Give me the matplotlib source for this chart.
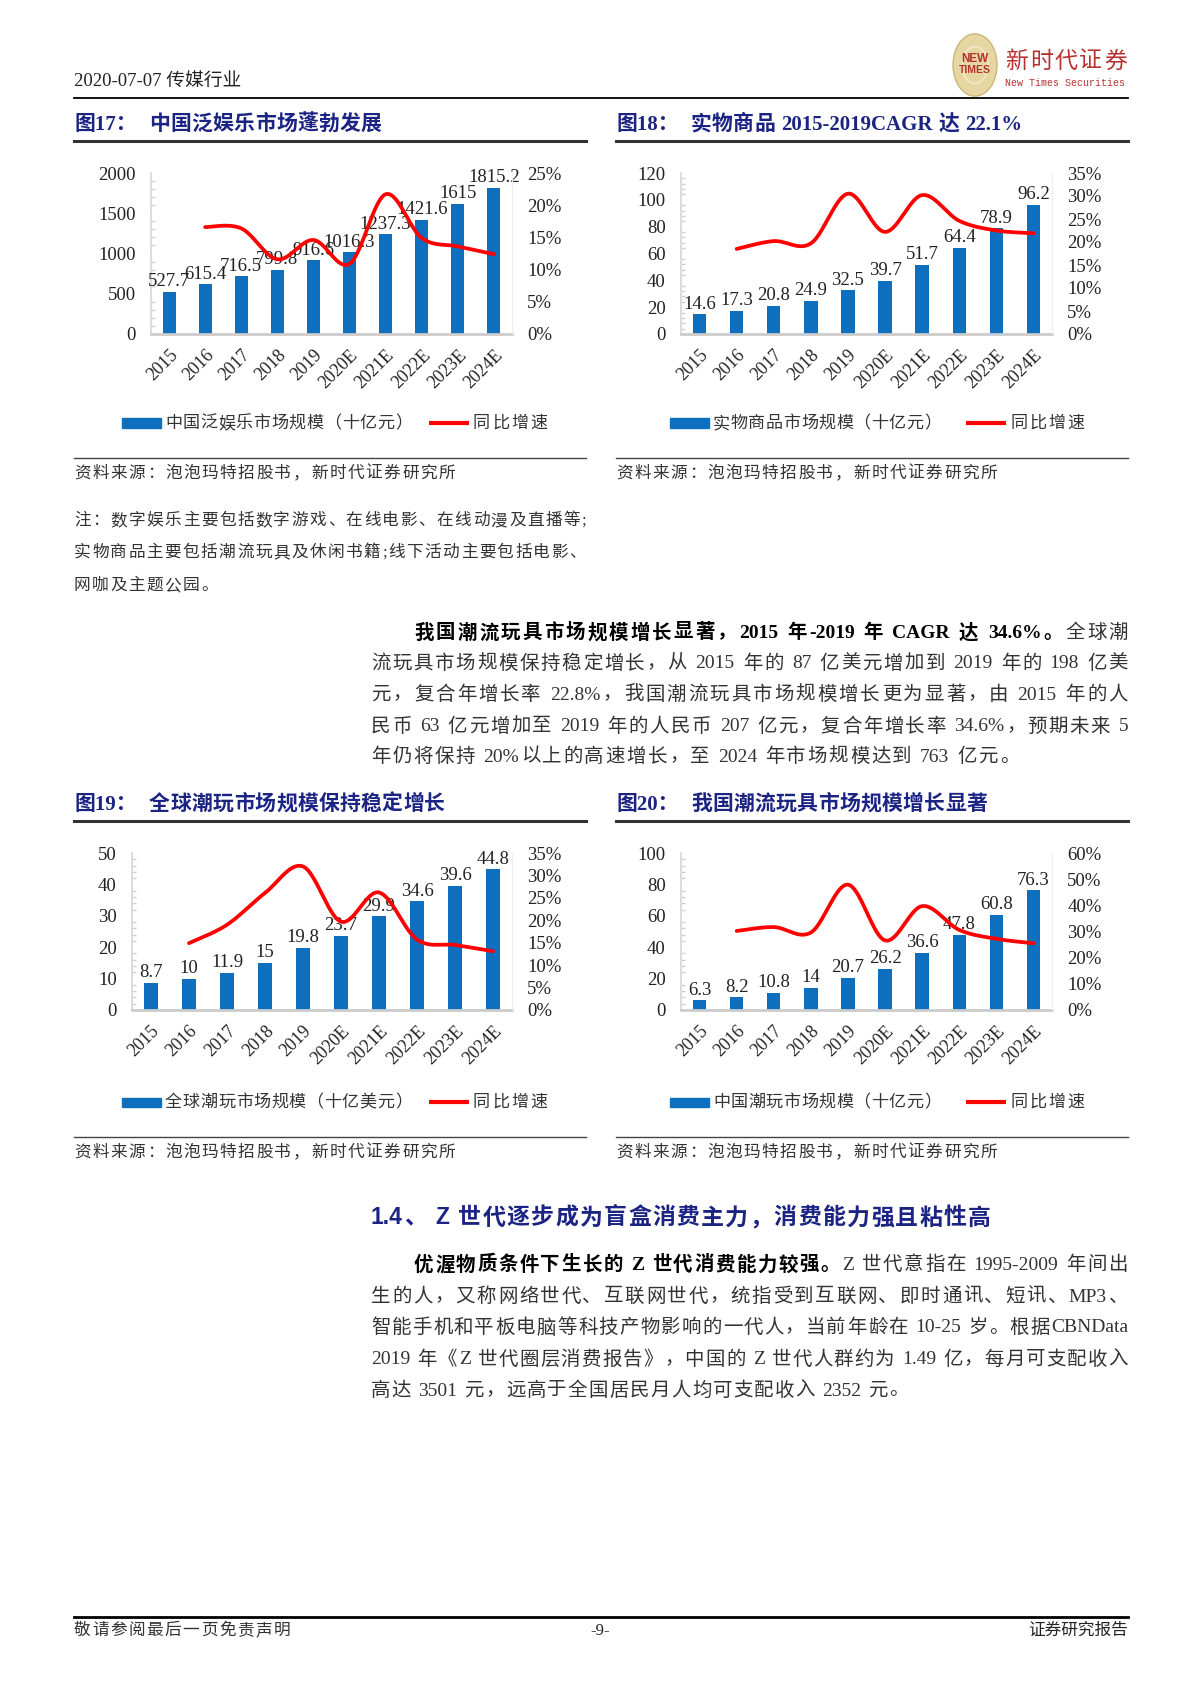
import re
import numpy as np
import matplotlib
matplotlib.use('Agg')
import matplotlib.pyplot as plt
from matplotlib.patches import Rectangle, Circle
from matplotlib.lines import Line2D
from matplotlib.ticker import MultipleLocator

# ---------------- data ----------------
years = ['2015', '2016', '2017', '2018', '2019', '2020E', '2021E', '2022E', '2023E', '2024E']

pan_ent_size = [527.7, 615.4, 716.5, 799.8, 916.6, 1016.3, 1237.3, 1421.6, 1615, 1815.2]
pan_ent_growth = [16.6, 16.4, 11.6, 14.6, 10.9, 21.7, 14.9, 13.6, 12.4]   # 2016..2024E, %

goods_size = [14.6, 17.3, 20.8, 24.9, 32.5, 39.7, 51.7, 64.4, 78.9, 96.2]
goods_growth = [18.5, 20.2, 19.7, 30.5, 22.2, 30.2, 24.6, 22.5, 21.9]

global_toy_size = [8.7, 10, 11.9, 15, 19.8, 23.7, 29.9, 34.6, 39.6, 44.8]
global_toy_growth = [14.9, 19.0, 26.1, 32.0, 19.7, 26.2, 15.7, 14.5, 13.1]

china_toy_size = [6.3, 8.2, 10.8, 14, 20.7, 26.2, 36.6, 47.8, 60.8, 76.3]
china_toy_growth = [30.2, 31.7, 29.6, 47.9, 26.6, 39.7, 30.6, 27.2, 25.5]

legend_bar_labels = ['中国泛娱乐市场规模（十亿元）', '实物商品市场规模（十亿元）',
                     '全球潮玩市场规模（十亿美元）', '中国潮玩市场规模（十亿元）']
legend_line_label = '同比增速'
fig_nums = ['图17：', '图18：', '图19：', '图20：']
fig_titles = ['中国泛娱乐市场蓬勃发展', '实物商品 2015-2019CAGR 达 22.1%',
              '全球潮玩市场规模保持稳定增长', '我国潮流玩具市场规模增长显著']
source_text = '资料来源：泡泡玛特招股书，新时代证券研究所'
note_lines = ['注：数字娱乐主要包括数字游戏、在线电影、在线动漫及直播等;',
              '实物商品主要包括潮流玩具及休闲书籍;线下活动主要包括电影、',
              '网咖及主题公园。']
para1 = [
    [('我国潮流玩具市场规模增长显著，2015 年-2019 年 CAGR 达 34.6%。', 'bold'), ('全球潮', 'normal')],
    [('流玩具市场规模保持稳定增长，从 2015 年的 87 亿美元增加到 2019 年的 198 亿美', 'normal')],
    [('元，复合年增长率 22.8%，我国潮流玩具市场规模增长更为显著，由 2015 年的人', 'normal')],
    [('民币 63 亿元增加至 2019 年的人民币 207 亿元，复合年增长率 34.6%，预期未来 5', 'normal')],
    [('年仍将保持 20%以上的高速增长，至 2024 年市场规模达到 763 亿元。', 'normal')],
]
heading = '1.4、 Z 世代逐步成为盲盒消费主力，消费能力强且粘性高'
para2 = [
    [('优渥物质条件下生长的 Z 世代消费能力较强。', 'bold'), ('Z 世代意指在 1995-2009 年间出', 'normal')],
    [('生的人，又称网络世代、互联网世代，统指受到互联网、即时通讯、短讯、MP3、', 'normal')],
    [('智能手机和平板电脑等科技产物影响的一代人，当前年龄在 10-25 岁。根据CBNData', 'normal')],
    [('2019 年《Z 世代圈层消费报告》，中国的 Z 世代人群约为 1.49 亿，每月可支配收入', 'normal')],
    [('高达 3501 元，远高于全国居民月人均可支配收入 2352 元。', 'normal')],
]

# ---------------- setup ----------------
W, H = 1200, 1698
fig = plt.figure(figsize=(12, 16.98), dpi=100)
fig.patch.set_facecolor('white')
R = fig.canvas.get_renderer()

FAM = ['Liberation Serif', 'Noto Sans CJK SC', 'DejaVu Sans']
SANS = ['Liberation Sans', 'Noto Sans CJK SC', 'DejaVu Sans']
CJK = ['Noto Sans CJK SC', 'DejaVu Sans']
BLUE = '#0F6FBF'
RED = '#FF0000'
NAVY = '#1B2483'
BODY = '#333333'


def fx(x):
    return x / W


def fy(y):
    return 1 - y / H


def txt(x, y, s, size, family=FAM, **kw):
    kw.setdefault('va', 'center')
    return fig.text(fx(x), fy(y), s, fontsize=size, family=family, **kw)


def hline(x0, x1, y, lw=1.0, color='black'):
    fig.add_artist(Line2D([fx(x0), fx(x1)], [fy(y), fy(y)], lw=lw, color=color,
                          transform=fig.transFigure))


TOK = re.compile(r'[A-Za-z0-9.%\-]+|\s+|.')


def tline(x0, y, segs, size, x1=None, gap=0.0, family=FAM, colors=None):
    toks = []
    for s, wt in segs:
        for m in TOK.findall(s):
            toks.append((m, wt))
    widths = []
    for s, wt in toks:
        if s.isspace():
            widths.append(0.25 * size * 100 / 72 * len(s))
        else:
            t = fig.text(0, 0, s, fontsize=size, fontweight=wt, family=family)
            widths.append(t.get_window_extent(renderer=R).width)
            t.remove()
    n = len(toks)
    if x1 is not None and n > 1:
        gap = (x1 - x0 - sum(widths)) / (n - 1)
    x = x0
    for (s, wt), w in zip(toks, widths):
        if not s.isspace():
            if colors is not None:
                col = colors
            else:
                col = '#000000' if wt == 'bold' else BODY
            fig.text(fx(x), fy(y), s, fontsize=size, fontweight=wt, family=family,
                     va='center', ha='left', color=col)
        x += w + gap
    return gap


def paragraph(lines, x0, xin, x1, ys, size):
    g = 0
    for i, (segs, y) in enumerate(zip(lines, ys)):
        start = xin if i == 0 else x0
        if i < len(lines) - 1:
            g = tline(start, y, segs, size, x1=x1)
        else:
            tline(start, y, segs, size, gap=g)


def smooth(xs, ys, n=40):
    p = np.column_stack([np.asarray(xs, float), np.asarray(ys, float)])
    m = len(p)
    tan = np.zeros_like(p)
    for i in range(m):
        if i == 0:
            tan[i] = (p[1] - p[0]) / 2
        elif i == m - 1:
            tan[i] = (p[-1] - p[-2]) / 2
        else:
            tan[i] = (p[i + 1] - p[i - 1]) / 2
    out = []
    t = np.linspace(0, 1, n)[:, None]
    for i in range(m - 1):
        P0, P3 = p[i], p[i + 1]
        C1 = P0 + tan[i] / 3
        C2 = P3 - tan[i + 1] / 3
        seg = ((1 - t) ** 3) * P0 + 3 * ((1 - t) ** 2) * t * C1 + 3 * (1 - t) * t ** 2 * C2 + t ** 3 * P3
        out.append(seg if i == 0 else seg[1:])
    out = np.vstack(out)
    return out[:, 0], out[:, 1]


def chart(box, sizes, growth, ymax, ystep, pmax, pstep):
    l, t, r, b = box
    ax = fig.add_axes([fx(l), fy(b), (r - l) / W, (b - t) / H])
    x = np.arange(len(years))
    ax.bar(x, sizes, width=0.36, color=BLUE, zorder=2)
    ax.set_xlim(-0.5, len(years) - 0.5)
    ax.set_ylim(0, ymax)
    yt = np.arange(0, ymax + ystep / 2, ystep)
    ax.set_yticks(yt)
    ax.set_yticklabels([f'{v:g}' for v in yt], family=FAM, fontsize=13.5, color='#222')
    ax.yaxis.set_minor_locator(MultipleLocator(ystep / 5))
    ax.tick_params(axis='y', which='major', length=0, pad=11)
    ax.tick_params(axis='y', which='minor', length=3, direction='in', color='#d0d0d0', width=1)
    ax.set_xticks(x)
    ax.set_xticklabels(years, rotation=45, ha='right', va='top', rotation_mode='anchor',
                       family=FAM, fontsize=13, color='#222')
    ax.tick_params(axis='x', length=0, pad=9)
    for s in ['top', 'right']:
        ax.spines[s].set_visible(False)
    ax.spines['left'].set_color('#d6d6d6')
    ax.spines['left'].set_linewidth(1.2)
    ax.spines['bottom'].set_color('#cccccc')
    ax.spines['bottom'].set_linewidth(2)
    for xi, v in zip(x, sizes):
        ax.text(xi, v + ymax * 0.01, f'{v:g}', ha='center', va='bottom', fontsize=13.5,
                family=FAM, color='#222', zorder=3)
    ax2 = ax.twinx()
    ax2.set_ylim(0, pmax)
    pt = np.arange(0, pmax + pstep / 2, pstep)
    ax2.set_yticks(pt)
    ax2.set_yticklabels([f'{int(v)}%' for v in pt], family=FAM, fontsize=13.5, color='#222')
    ax2.tick_params(axis='y', length=0, pad=11)
    for s in ['top', 'left', 'bottom']:
        ax2.spines[s].set_visible(False)
    ax2.spines['right'].set_color('#eeeeee')
    sx, sy = smooth(x[1:], growth)
    ax2.plot(sx, sy, color=RED, lw=2.7, solid_capstyle='round', zorder=4)
    return ax


def legend(y, px0, px1, tx, tx1, lx0, lx1, t2x, label):
    fig.add_artist(Rectangle((fx(px0), fy(y + 4.5)), (px1 - px0) / W, 9 / H,
                             transform=fig.transFigure, color=BLUE))
    tline(tx, y, [(label, 'normal')], 12.3, x1=tx1, family=CJK, colors='#333333')
    fig.add_artist(Line2D([fx(lx0), fx(lx1)], [fy(y), fy(y)], lw=3, color=RED,
                          transform=fig.transFigure, solid_capstyle='butt'))
    tline(t2x, y, [(legend_line_label, 'normal')], 12.3, gap=2.0, family=CJK, colors='#333333')


# ---------------- header ----------------
txt(74, 81, '2020-07-07 传媒行业', 13.5, color='#222')
hline(74, 1128, 98, lw=1.3)
fig.add_artist(Circle((fx(975), fy(65)), 22 / W, transform=fig.transFigure,
                      facecolor='#E6D6A2', edgecolor='#CDB677', lw=1.0))
fig.add_artist(Circle((fx(975), fy(65)), 13 / W, transform=fig.transFigure,
                      facecolor='none', edgecolor='#F3E9C8', lw=1.2))
txt(975, 59, 'NEW', 8.5, family=SANS, ha='center', color='#B5322F', fontweight='bold')
txt(975, 70, 'TIMES', 7.5, family=SANS, ha='center', color='#B5322F', fontweight='bold')
tline(1005, 61, [('新时代证券', 'normal')], 16.5, x1=1127, family=CJK, colors='#B5322F')
txt(1005, 83, 'New Times Securities', 7.2, family=['Liberation Mono', 'DejaVu Sans Mono'],
    color='#B5322F')

# ---------------- figure titles ----------------
cols = [(74, 586), (616, 1128)]
title_rows = [(125, 141), (805, 821)]
k = 0
for (ty, ly) in title_rows:
    for (cx0, cx1) in cols:
        txt(cx0, ty, fig_nums[k], 15, color=NAVY, fontweight='bold')
        tline(cx0 + 75, ty, [(fig_titles[k], 'bold')], 15, gap=0.3, colors=NAVY)
        hline(cx0, cx1, ly, lw=2.2, color='#333333')
        k += 1

# ---------------- charts ----------------
chart((151, 173, 512, 334), pan_ent_size, pan_ent_growth, 2000, 500, 25, 5)
chart((681, 173, 1052, 334), goods_size, goods_growth, 120, 20, 35, 5)
chart((132, 853, 512, 1010), global_toy_size, global_toy_growth, 50, 10, 35, 5)
chart((681, 853, 1052, 1010), china_toy_size, china_toy_growth, 100, 20, 60, 10)

legend(423, 122, 161, 165, 412, 429, 469, 473, legend_bar_labels[0])
legend(423, 670, 709, 713, 941, 966, 1006, 1010, legend_bar_labels[1])
legend(1102, 122, 161, 165, 412, 429, 469, 473, legend_bar_labels[2])
legend(1102, 670, 709, 713, 941, 966, 1006, 1010, legend_bar_labels[3])

# ---------------- sources ----------------
for (sl, st) in [(458, 474), (1137, 1153)]:
    for (cx0, cx1) in cols:
        hline(cx0, cx1, sl, lw=1.0, color='#444444')
        tline(cx0, st, [(source_text, 'normal')], 12, gap=1.6)

# ---------------- note ----------------
paragraph([[(s, 'normal')] for s in note_lines], 74, 74, 586, [521, 553, 586], 12)

# ---------------- paragraphs ----------------
paragraph(para1, 371, 414, 1128, [633, 664, 695, 727, 757], 14)
tline(371, 1218, [(heading, 'bold')], 16.5, x1=991, family=SANS, colors=NAVY)
paragraph(para2, 371, 414, 1128, [1265, 1297, 1328, 1360, 1391], 14)

# ---------------- footer ----------------
hline(74, 1128, 1617, lw=2.0)
tline(74, 1631, [('敬请参阅最后一页免责声明', 'normal')], 12, gap=1.5)
txt(600, 1631, '-9-', 12, ha='center', color='#222')
txt(1128, 1631, '证券研究报告', 12, ha='right', color='#222')

fig.savefig('out.png', dpi=100, facecolor='white')
